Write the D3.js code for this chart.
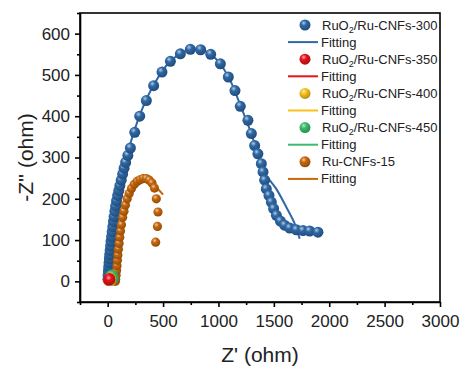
<!DOCTYPE html>
<html lang="en">
<head>
  <meta charset="UTF-8">
  <title>Nyquist plot</title>
  <script src="https://d3js.org/d3.v7.min.js"></script>
  <style>
    body { margin: 0; background: #fff; }
    svg { font-family: "Liberation Sans", Arial, sans-serif; }
    .axis path, .axis line { stroke: #000; stroke-width: 1.6px; }
    .axis text { font-size: 17px; fill: #222; }
    .legend text { font-size: 13px; fill: #222; }
  </style>
</head>
<body>
  <div id="chart"></div>
  <script>
    const width = 466, height = 372;

    // Z' (ohm), -Z'' (ohm)
    const ru300 = [[2,5],[4,15],[6,25],[9,35],[12,45],[15,55],[18,65],[22,75],[26,86],[30,97],[35,108],[40,120],
      [46,132],[52,145],[58,157],[65,170],[72,182],[80,195],[90,208],[100,220],[110,232],[122,245],[135,260],
      [148,274],[162,288],[182,305],[205,323],[244,361],[289,400],[349,438],[415,474],[490,507],[566,533],[656,551],
      [746,562],[839,561],[930,550],[1017,527],[1089,495],[1149,462],[1197,424],[1266,390],[1297,358],[1327,329],
      [1356,309],[1387,285],[1402,265],[1417,245],[1432,224],[1456,208],[1477,192],[1498,176],[1523,160],[1559,146],
      [1597,136],[1643,129],[1703,125],[1763,123],[1823,122],[1898,119]];
    const ru300Fit = [[0,0],[20,80],[60,170],[120,250],[200,330],[300,410],[420,478],[560,532],[700,557],[800,562],
      [900,555],[1000,532],[1100,490],[1200,425],[1300,355],[1402,269],[1522,224],[1612,180],[1688,140],[1733,103]];

    const ru350 = [[8,3],[12,6],[16,7],[20,4]];
    const ru350Fit = [[6,0],[12,6],[20,4],[24,0]];
    const ru400 = [[8,2],[14,6],[20,8],[26,6],[30,2]];
    const ru400Fit = [[6,0],[14,6],[20,8],[26,6],[32,0]];
    const ru450 = [[14,4],[24,11],[34,15],[44,13],[52,6]];
    const ru450Fit = [[10,0],[20,10],[30,15],[40,15],[48,8],[54,0]];

    const cnf15 = [[70,0],[72,5],[76,15],[80,26],[84,38],[88,51],[92,64],[97,78],[103,92],[109,107],[116,122],
      [124,137],[135,155],[147,170],[160,185],[176,200],[194,213],[215,225],[240,235],[265,242],[292,246],[320,249],
      [348,249],[375,245],[400,238],[422,226],[439,200],[454,168],[449,133],[433,95]];
    const cnf15Fit = [[70,0],[90,55],[110,110],[140,160],[180,200],[230,228],[290,244],[350,247],[410,236],[460,222],[500,210]];

    const series = [
      { name: "RuO2/Ru-CNFs-300", color: "#2e68a6", pts: ru300, fit: ru300Fit, r: 5.5 },
      { name: "RuO2/Ru-CNFs-350", color: "#e8121b", pts: ru350, fit: ru350Fit, r: 5.5 },
      { name: "RuO2/Ru-CNFs-400", color: "#f6c21c", pts: ru400, fit: ru400Fit, r: 5.5 },
      { name: "RuO2/Ru-CNFs-450", color: "#3dbb6c", pts: ru450, fit: ru450Fit, r: 5.5 },
      { name: "Ru-CNFs-15", color: "#c8670c", pts: cnf15, fit: cnf15Fit, r: 4.6 }
    ];
    const drawOrder = [0, 4, 3, 2, 1];

    const xTicks = [0, 500, 1000, 1500, 2000, 2500, 3000];
    const yTicks = [0, 100, 200, 300, 400, 500, 600];

    const pLeft = 80, pRight = 440, pTop = 13, pBottom = 302;
    const x = d3.scaleLinear().domain([-250, 3000]).range([pLeft, pRight]);
    const y = d3.scaleLinear().domain([-50, 650]).range([pBottom, pTop]);

    const svg = d3.select("#chart").append("svg")
      .attr("width", width).attr("height", height);

    const defs = svg.append("defs");
    series.forEach((s, i) => {
      const g = defs.append("radialGradient").attr("id", "ball" + i)
        .attr("cx", "38%").attr("cy", "32%").attr("r", "70%");
      g.append("stop").attr("offset", "0%").attr("stop-color", d3.interpolateRgb(s.color, "#fff")(0.65));
      g.append("stop").attr("offset", "35%").attr("stop-color", s.color);
      g.append("stop").attr("offset", "100%").attr("stop-color", d3.color(s.color).darker(0.9));
    });

    const line = d3.line().x(d => x(d[0])).y(d => y(d[1])).curve(d3.curveCatmullRom);

    // data
    drawOrder.forEach(i => {
      const s = series[i];
      const g = svg.append("g");
      g.append("path").datum(s.fit).attr("d", line)
        .attr("fill", "none").attr("stroke", s.color).attr("stroke-width", 2);
      g.selectAll("circle").data(s.pts).enter().append("circle")
        .attr("cx", d => x(d[0])).attr("cy", d => y(d[1]))
        .attr("r", s.r).attr("fill", `url(#ball${i})`);
    });

    // frame
    svg.append("rect").attr("x", pLeft).attr("y", pTop)
      .attr("width", pRight - pLeft).attr("height", pBottom - pTop)
      .attr("fill", "none").attr("stroke", "#000").attr("stroke-width", 1.6);

    // axes
    svg.append("g").attr("class", "axis").attr("transform", `translate(0,${pBottom})`)
      .call(d3.axisBottom(x).tickValues(xTicks).tickFormat(d3.format("d")).tickSize(5).tickPadding(8).tickSizeOuter(0));
    svg.append("g").attr("class", "axis").attr("transform", `translate(0,${pBottom})`)
      .call(d3.axisBottom(x).tickValues(d3.range(-250, 3001, 500)).tickSize(3).tickFormat("").tickSizeOuter(0))
      .select(".domain").remove();
    svg.append("g").attr("class", "axis").attr("transform", `translate(${pLeft},0)`)
      .call(d3.axisLeft(y).tickValues(yTicks).tickFormat(d3.format("d")).tickSize(5).tickPadding(5).tickSizeOuter(0));
    svg.append("g").attr("class", "axis").attr("transform", `translate(${pLeft},0)`)
      .call(d3.axisLeft(y).tickValues(d3.range(-50, 651, 100)).tickSize(3).tickFormat("").tickSizeOuter(0))
      .select(".domain").remove();

    svg.append("text").attr("x", (pLeft + pRight) / 2).attr("y", 362)
      .attr("text-anchor", "middle").attr("font-size", 21).attr("fill", "#222").text("Z' (ohm)");
    svg.append("text").attr("transform", `translate(33,${(pTop + pBottom) / 2}) rotate(-90)`)
      .attr("text-anchor", "middle").attr("font-size", 21).attr("fill", "#222").text("-Z'' (ohm)");

    // legend
    const legend = svg.append("g").attr("class", "legend");
    const rowH = 17.1, ly0 = 25;
    series.forEach((s, i) => {
      const yp = ly0 + i * 2 * rowH;
      legend.append("circle").attr("cx", 305).attr("cy", yp).attr("r", 5.5).attr("fill", `url(#ball${i})`);
      const t = legend.append("text").attr("x", 322).attr("y", yp + 4.5);
      if (s.name.startsWith("RuO2")) {
        t.append("tspan").text("RuO");
        t.append("tspan").attr("font-size", 9).attr("dy", 3).text("2");
        t.append("tspan").attr("dy", -3).text(s.name.slice(4));
      } else {
        t.text(s.name);
      }
      legend.append("line").attr("x1", 288).attr("x2", 318)
        .attr("y1", yp + rowH).attr("y2", yp + rowH)
        .attr("stroke", s.color).attr("stroke-width", 2);
      legend.append("text").attr("x", 321).attr("y", yp + rowH + 4.5).text("Fitting");
    });
  </script>
</body>
</html>
